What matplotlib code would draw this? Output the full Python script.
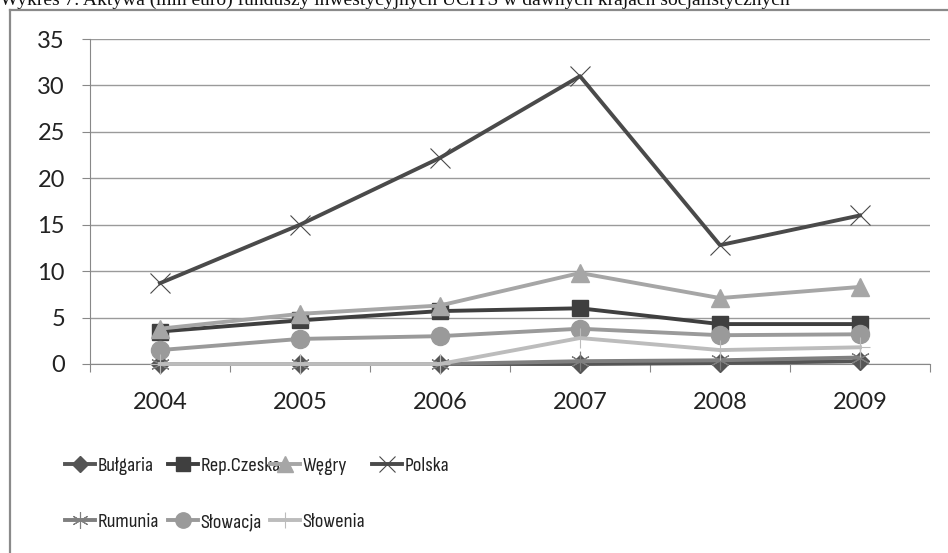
import numpy as np
import matplotlib
matplotlib.use('Agg')
import matplotlib.pyplot as plt
import matplotlib.lines as ln

# dane (mln euro)
years = ['2004', '2005', '2006', '2007', '2008', '2009']
bulgaria = [0.0, 0.0, 0.0, 0.0, 0.1, 0.3]
czechy = [3.5, 4.7, 5.7, 6.0, 4.3, 4.3]
wegry = [3.8, 5.4, 6.3, 9.8, 7.1, 8.3]
polska = [8.7, 15.0, 22.2, 31.0, 12.8, 16.0]
rumunia = [0.0, 0.0, 0.0, 0.3, 0.4, 0.7]
slowacja = [1.5, 2.7, 3.0, 3.8, 3.1, 3.2]
slowenia = [0.0, 0.0, 0.0, 2.8, 1.5, 1.8]

labels = ['Bułgaria', 'Rep.Czeska', 'Węgry', 'Polska', 'Rumunia', 'Słowacja', 'Słowenia']
title = 'Wykres 7. Aktywa (mln euro) funduszy inwestycyjnych UCITS w dawnych krajach socjalistycznych'

# styl serii: kolor, marker, rozmiar, grubosc krawedzi markera
styles = [
    ('#555555', 'D', 9, 1.0),
    ('#3f3f3f', 's', 12, 1.0),
    ('#a6a6a6', '^', 13, 1.0),
    ('#4a4a4a', 'x', 14, 0.8),
    ('#7f7f7f', (6, 2, 0), 14, 0.8),
    ('#9a9a9a', 'o', 13, 1.0),
    ('#bcbcbc', '+', 14, 0.8),
]

plt.rcParams['font.family'] = ['Lato', 'DejaVu Sans']
narrow = ['Sofia Sans Condensed', 'Sofia Sans Semi Condensed', 'DejaVu Sans']

W, H = 948, 553
fig = plt.figure(figsize=(W / 100, H / 100), dpi=100)

# ramka wykresu
frame_kw = dict(color='#8a8a8a', lw=1.6, transform=fig.transFigure, clip_on=False)
fig.add_artist(ln.Line2D([10 / W, 10 / W], [1 - 10 / H, 0], **frame_kw))
fig.add_artist(ln.Line2D([10 / W, 1], [1 - 10 / H, 1 - 10 / H], **frame_kw))

fig.text(0.0, 1 - 5 / H, title, family='Liberation Serif', fontsize=14,
         ha='left', va='baseline', color='#111111')

ax = fig.add_axes([90 / W, (H - 364) / H, (930 - 90) / W, (364 - 39) / H])

x = np.arange(len(years))
series = [bulgaria, czechy, wegry, polska, rumunia, slowacja, slowenia]
handles = []
for vals, lab, (col, mk, ms, mew) in zip(series, labels, styles):
    h, = ax.plot(x, vals, color=col, lw=2.8, marker=mk, markersize=ms,
                 markeredgewidth=mew, markeredgecolor=col, markerfacecolor=col,
                 label=lab, clip_on=False, zorder=3)
    handles.append(h)

ax.set_xlim(-0.5, len(years) - 0.5)
ax.set_ylim(0, 35)
ax.set_yticks(np.arange(0, 36, 5))
ax.set_xticks(np.arange(-0.5, len(years), 1.0))
ax.set_xticklabels([])
ax.set_xticks(x, minor=True)
ax.set_xticklabels(years, minor=True)
ax.tick_params(axis='x', which='major', length=6, color='#888888', direction='out')
ax.tick_params(axis='x', which='minor', length=0, pad=20, labelsize=17, labelcolor='#222222')
ax.tick_params(axis='y', length=6, color='#888888', pad=12, labelsize=17, labelcolor='#222222')
ax.grid(axis='y', color='#9a9a9a', lw=1.0)
ax.set_axisbelow(True)
for s in ['top', 'right']:
    ax.spines[s].set_visible(False)
ax.spines['left'].set_color('#888888')
ax.spines['bottom'].set_color('#888888')

# legenda - rowne kolumny jak w Excelu
col_x = [65, 168, 270, 372]
row_y = [466, 522]
for i, h in enumerate(handles):
    r, c = divmod(i, 4)
    leg = fig.legend(handles=[h], labels=[labels[i]], loc='center left',
                     bbox_to_anchor=(col_x[c] / W, 1 - row_y[r] / H),
                     frameon=False, prop={'family': narrow, 'size': 15},
                     handlelength=1.45, handletextpad=0.1, borderpad=0,
                     borderaxespad=0, markerscale=0.85)
    for t in leg.get_texts():
        t.set_color('#222222')

fig.savefig('out.png', dpi=100)
